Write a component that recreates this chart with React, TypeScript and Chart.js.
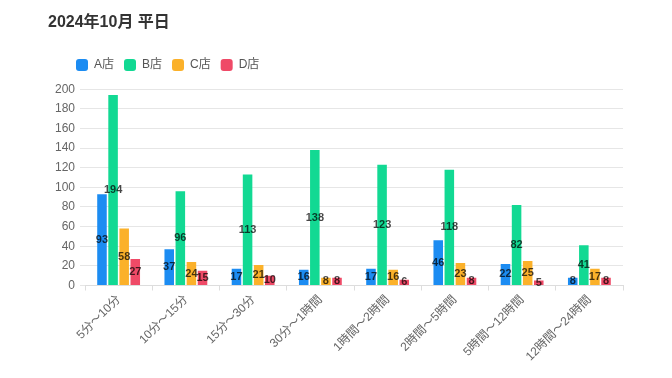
import React, { useEffect, useRef } from "react";
import { Chart, registerables } from "chart.js";

Chart.register(...registerables);

const TITLE = "2024年10月 平日";
const categories = [
  "5分〜10分",
  "10分〜15分",
  "15分〜30分",
  "30分〜1時間",
  "1時間〜2時間",
  "2時間〜5時間",
  "5時間〜12時間",
  "12時間〜24時間",
];
const seriesNames = ["A店", "B店", "C店", "D店"];
const storeA = [93, 37, 17, 16, 17, 46, 22, 8];
const storeB = [194, 96, 113, 138, 123, 118, 82, 41];
const storeC = [58, 24, 21, 8, 16, 23, 25, 17];
const storeD = [27, 15, 10, 8, 6, 8, 5, 8];
const colors = ["#1c8cf2", "#12d993", "#fbb12a", "#ef4a67"];
const yTicksMax = 200;
const yStep = 20;

const FONT = "Arial, 'Liberation Sans', 'Noto Sans CJK JP', sans-serif";

const barLabels = {
  id: "barLabels",
  afterDatasetsDraw(chart: any) {
    const ctx = chart.ctx;
    ctx.save();
    ctx.font = `bold 11px ${FONT}`;
    ctx.fillStyle = "rgba(0,0,0,0.72)";
    ctx.textAlign = "center";
    ctx.textBaseline = "middle";
    chart.data.datasets.forEach((ds: any, i: number) => {
      const meta = chart.getDatasetMeta(i);
      if (meta.hidden) return;
      meta.data.forEach((el: any, j: number) => {
        const p = el.getProps(["x", "y", "base"], true);
        ctx.fillText(String(ds.data[j]), p.x, (p.y + p.base) / 2);
      });
    });
    ctx.restore();
  },
};

// nudge the legend so its first item lines up under the plot like the reference
const legendShift = {
  id: "legendShift",
  afterLayout(chart: any) {
    if (chart.legend) {
      chart.legend.left += 13;
      chart.legend.right += 13;
    }
  },
};

export default function App() {
  const ref = useRef<HTMLCanvasElement>(null);
  useEffect(() => {
    if (!ref.current) return;
    Chart.defaults.font.family = FONT;
    Chart.defaults.color = "#666";
    const data = [storeA, storeB, storeC, storeD];
    const chart = new Chart(ref.current, {
      type: "bar",
      data: {
        labels: categories,
        datasets: seriesNames.map((name, i) => ({
          label: name,
          data: data[i],
          backgroundColor: colors[i],
          borderWidth: 0,
          categoryPercentage: 0.66,
          barPercentage: 0.86,
        })),
      },
      options: {
        animation: false,
        responsive: false,
        maintainAspectRatio: false,
        layout: { padding: { left: 45, right: 41, top: 41, bottom: 4 } },
        plugins: {
          title: {
            display: true,
            text: "",
            weight: 500,
            font: { size: 1 },
            padding: { top: 0, bottom: 7 },
          },
          tooltip: { enabled: false },
          legend: {
            align: "start",
            labels: {
              boxWidth: 12,
              boxHeight: 12,
              useBorderRadius: true,
              borderRadius: 3,
              padding: 10,
              color: "#555",
              font: { size: 12 },
            },
          },
        },
        scales: {
          x: {
            grid: { drawOnChartArea: false, drawTicks: true, tickLength: 5, color: "#ddd" },
            border: { color: "#ddd" },
            ticks: { minRotation: 45, maxRotation: 45, font: { size: 12 }, color: "#666", padding: 2 },
          },
          y: {
            min: 0,
            max: yTicksMax,
            ticks: { stepSize: yStep, font: { size: 12 }, color: "#666", padding: 5 },
            grid: { color: "#e6e6e6", tickLength: 5 },
            border: { display: false },
            afterFit: (scale: any) => {
              scale.width = 32;
            },
          },
        },
      },
      plugins: [barLabels, legendShift],
    });
    return () => chart.destroy();
  }, []);
  return (
    <div style={{ position: "relative", width: 656, height: 362 }}>
      <div
        style={{
          position: "absolute",
          left: 40,
          top: 4,
          font: `bold 16px ${FONT}`,
          lineHeight: "20px",
          color: "#333",
          whiteSpace: "nowrap",
        }}
      >
        {TITLE}
      </div>
      <canvas ref={ref} width={656} height={362} style={{ display: "block" }} />
    </div>
  );
}
